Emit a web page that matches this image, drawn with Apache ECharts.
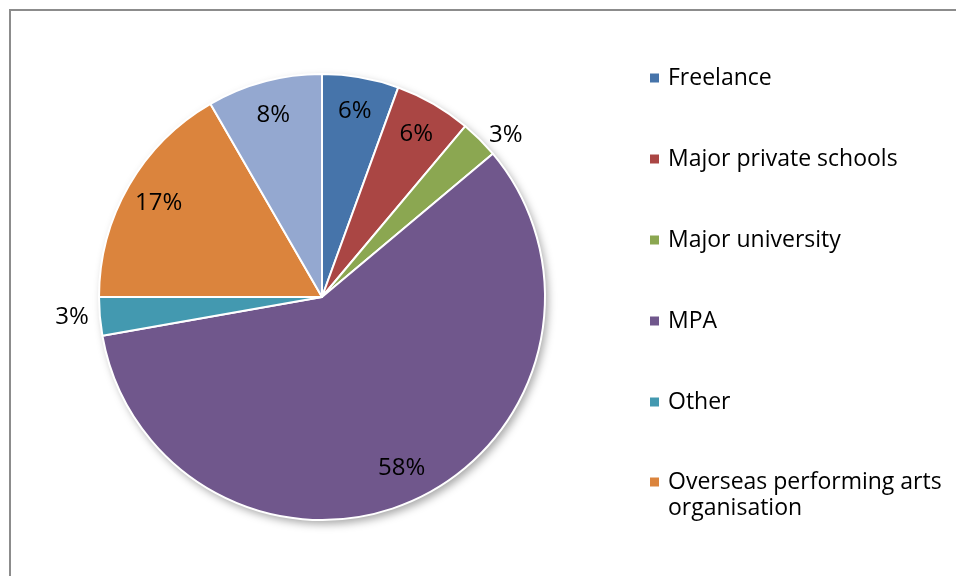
<!DOCTYPE html>
<html>
<head>
<meta charset="utf-8">
<script src="https://cdn.jsdelivr.net/npm/echarts@6/dist/echarts.min.js"></script>
<style>
  html, body { margin: 0; padding: 0; background: #fff; overflow: hidden; }
  #chart { position: absolute; left: 0; top: 0; width: 956px; height: 576px; }
  .frame {
    position: absolute; left: 9px; top: 9px; width: 1200px; height: 1200px;
    border-left: 2px solid #8c8c8c; border-top: 2px solid #8c8c8c;
    pointer-events: none;
  }
</style>
</head>
<body>
<div id="chart"></div>
<div class="frame"></div>
<script>
// slices, clockwise from 12 o'clock
const categories = ['Freelance', 'Major private schools', 'Major university', 'MPA', 'Other',
  'Overseas performing arts organisation', 'Not shown']
const values = [2, 2, 1, 21, 1, 6, 3]
const colors = ['#4674AA', '#AA4644', '#8BA751', '#70578C', '#4399B0', '#DB843D', '#94A8D0']
// small slices get their label outside the pie
const outsideLabel = [false, false, true, false, true, false, false]

const chartDom = document.getElementById('chart')
const myChart = echarts.init(chartDom)

const font = '"Open Sans", "Noto Sans", sans-serif'
const center = [322, 297]
const R = 223

const pct = (p) => Math.round(p.percent) + '%'

const legendText = { fontFamily: font, fontSize: 23, color: '#000', lineHeight: 26, padding: [0, 0, 0, 3] }

const option = {
  animation: false,
  legend: [
    {
      // first five entries
      data: categories.slice(0, 5),
      orient: 'vertical',
      left: 643,
      top: 60,
      itemGap: 55,
      itemWidth: 11,
      itemHeight: 11,
      icon: 'rect',
      selectedMode: false,
      textStyle: legendText,
    },
    {
      // wrapped entry: blank first line so the icon sits on "Overseas..."
      data: [categories[5]],
      orient: 'vertical',
      left: 643,
      top: 438,
      itemWidth: 11,
      itemHeight: 11,
      icon: 'rect',
      selectedMode: false,
      formatter: () => ' \nOverseas performing arts\norganisation',
      textStyle: legendText,
    },
  ],
  series: [
    {
      // main pie
      type: 'pie',
      z: 3,
      center: center,
      radius: R,
      startAngle: 90,
      clockwise: true,
      silent: true,
      label: { show: false },
      labelLine: { show: false },
      itemStyle: { borderColor: '#fff', borderWidth: 2 },
      data: categories.map((name, i) => ({ name, value: values[i], itemStyle: { color: colors[i] } })),
    },
    {
      // soft shadow under the pie
      type: 'pie',
      z: 1,
      center: center,
      radius: R,
      silent: true,
      legendHoverLink: false,
      label: { show: false },
      labelLine: { show: false },
      itemStyle: { color: '#fff', shadowBlur: 8, shadowOffsetX: 3, shadowOffsetY: 4, shadowColor: 'rgba(0,0,0,0.35)' },
      data: [{ name: '', value: 1 }],
    },
    {
      // invisible ring that carries the percent labels near the rim
      type: 'pie',
      z: 4,
      center: center,
      radius: [148, R],
      startAngle: 90,
      clockwise: true,
      silent: true,
      avoidLabelOverlap: false,
      legendHoverLink: false,
      itemStyle: { color: 'rgba(0,0,0,0)', borderWidth: 0 },
      emphasis: { disabled: true },
      labelLine: { show: false, length: 6, length2: 0 },
      data: categories.map((name, i) => ({
        name,
        value: values[i],
        label: {
          show: true,
          position: outsideLabel[i] ? 'outside' : 'inside',
          formatter: pct,
          fontFamily: font,
          fontSize: 24,
          color: '#000',
        },
      })),
    },
  ],
}
option && myChart.setOption(option)
</script>
</body>
</html>
